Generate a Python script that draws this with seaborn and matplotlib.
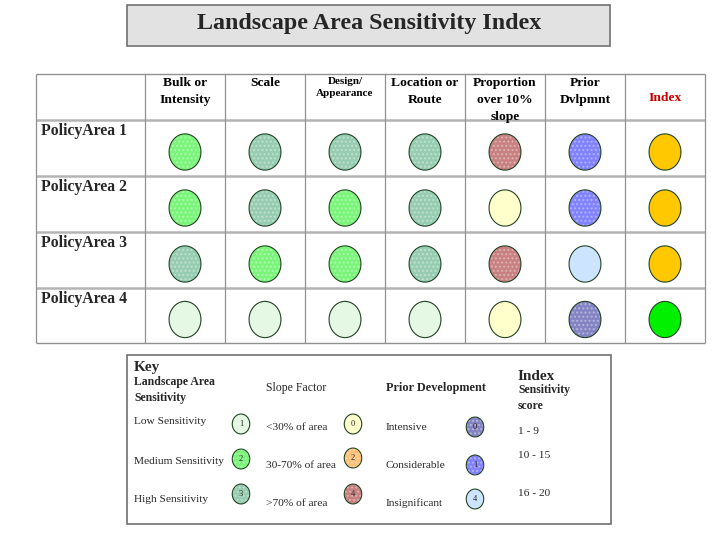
import numpy as np
import pandas as pd
import matplotlib.pyplot as plt
from matplotlib.path import Path
import seaborn as sns

# ---- data ----
columns = ["Bulk or\nIntensity", "Scale", "Design/\nAppearance", "Location or\nRoute",
           "Proportion\nover 10%\nslope", "Prior\nDvlpmnt", "Index"]
areas = ["PolicyArea 1", "PolicyArea 2", "PolicyArea 3", "PolicyArea 4"]

# rating per area, one list per column
bulk = ["medium", "medium", "high", "low"]
scale = ["high", "high", "medium", "low"]
design = ["high", "medium", "medium", "low"]
location = ["high", "high", "high", "low"]
slope = ["over70", "under30", "over70", "under30"]
prior = ["considerable", "considerable", "insignificant", "intensive"]
index = ["mid", "mid", "mid", "top"]

key_sens = ["Low Sensitivity", "Medium Sensitivity", "High Sensitivity"]
key_sens_codes = ["low", "medium", "high"]
key_sens_nums = ["1", "2", "3"]
key_slope = ["<30% of area", "30-70% of area", ">70% of area"]
key_slope_codes = ["under30", "mid70", "over70"]
key_slope_nums = ["0", "2", "4"]
key_prior = ["Intensive", "Considerable", "Insignificant"]
key_prior_codes = ["intensive", "considerable", "insignificant"]
key_prior_nums = ["0", "1", "4"]
key_index = ["1 - 9", "10 - 15", "16 - 20"]

palette = {
    "low": "#e4f8e4", "medium": "#7af57a", "high": "#98ccb2",
    "under30": "#ffffcc", "mid70": "#ffc078", "over70": "#c88080",
    "intensive": "#8484c4", "considerable": "#8282ff", "insignificant": "#cce4ff",
    "mid": "#ffc800", "top": "#00f000",
}
textured = ["medium", "high", "mid70", "over70", "intensive", "considerable"]

# ---- layout ----
W, H = 718, 535
col_edges = [36, 145, 225, 305, 385, 465, 545, 625, 705]
row_edges = [74, 120, 176, 232, 288, 343]
serif = "Liberation Serif"

# ellipse marker, slightly taller than wide
t = np.linspace(0, 2 * np.pi, 60)
ellipse = Path(np.column_stack([0.44 * np.cos(t), 0.5 * np.sin(t)]), closed=True)

sns.set_style("white")
fig = plt.figure(figsize=(W / 100, H / 100), dpi=100)
ax = fig.add_axes([0, 0, 1, 1])
ax.set_xlim(0, W)
ax.set_ylim(H, 0)
ax.axis("off")


def dots(df, size, z):
    sns.scatterplot(data=df, x="x", y="y", hue="rating", palette=palette, marker=ellipse,
                    s=size, edgecolor="#224422", linewidth=0.8, legend=False, ax=ax, zorder=z)
    tex = df[df["rating"].isin(textured)]
    ax.scatter(tex["x"], tex["y"], marker=ellipse, s=size * 0.9, facecolor="none",
               edgecolor=(1, 1, 1, 0.35), linewidth=0, hatch="....", zorder=z + 0.1)


# title box
ax.add_patch(plt.Rectangle((127, 5), 483, 41, facecolor="#e2e2e2", edgecolor="#707070", lw=1.2))
ax.text(369, 23, "Landscape Area Sensitivity Index", family=serif, weight="bold",
        fontsize=17.3, ha="center", va="center")

# table grid
ax.hlines(row_edges[1:-1], col_edges[0], col_edges[-1], color="#b4b4b4", lw=1.8)
ax.hlines([row_edges[0], row_edges[-1]], col_edges[0], col_edges[-1], color="#909090", lw=1)
ax.vlines(col_edges, row_edges[0], row_edges[-1], color="#909090", lw=0.9)

col_mid = [(col_edges[i + 1] + col_edges[i + 2]) / 2 for i in range(len(columns))]
row_mid = [(row_edges[i + 1] + row_edges[i + 2]) / 2 + 4 for i in range(len(areas))]

for i, name in enumerate(columns):
    small = name.startswith("Design")
    ax.text(col_mid[i], 98 if name == "Index" else 77, name, family=serif, weight="bold",
            fontsize=8 if small else 9.7, ha="center", va="center" if name == "Index" else "top",
            color="#cc0000" if name == "Index" else "black",
            linespacing=1.45 if small else 1.55)

for j, area in enumerate(areas):
    ax.text(41, row_edges[j + 1] + 3, area, family=serif, weight="bold", fontsize=11.3,
            ha="left", va="top")

grid = pd.DataFrame({
    "x": np.repeat(col_mid, len(areas)),
    "y": np.tile(row_mid, len(columns)),
    "rating": bulk + scale + design + location + slope + prior + index,
})
dots(grid, 680, 3)

# key box
ax.add_patch(plt.Rectangle((127, 355), 484, 169, facecolor="white", edgecolor="#707070", lw=1.2))
ax.text(134, 367, "Key", family=serif, weight="bold", fontsize=11, ha="left", va="center")
ax.text(134, 390, "Landscape Area\nSensitivity", family=serif, weight="bold", fontsize=8.5,
        ha="left", va="center", linespacing=1.4)
ax.text(266, 388, "Slope Factor", family=serif, fontsize=8.5, ha="left", va="center")
ax.text(386, 388, "Prior Development", family=serif, weight="bold", fontsize=8.8,
        ha="left", va="center")
ax.text(518, 376, "Index", family=serif, weight="bold", fontsize=11, ha="left", va="center")
ax.text(518, 398, "Sensitivity\nscore", family=serif, weight="bold", fontsize=8.5,
        ha="left", va="center", linespacing=1.35)

label_y = [[422, 462, 499], [427, 465, 503], [427, 465, 503], [431, 456, 494]]
dot_y = [[424, 459, 494], [424, 458, 494], [427, 465, 499]]
label_x = [134, 266, 386, 518]
dot_x = [241, 353, 475]
groups = [(key_sens, key_sens_codes, key_sens_nums),
          (key_slope, key_slope_codes, key_slope_nums),
          (key_prior, key_prior_codes, key_prior_nums)]

rows = []
for g, (labels, codes, nums) in enumerate(groups):
    for k in range(3):
        ax.text(label_x[g], label_y[g][k], labels[k], family=serif, fontsize=8.2,
                ha="left", va="center")
        ax.text(dot_x[g], dot_y[g][k], nums[k], family=serif, fontsize=6,
                ha="center", va="center", zorder=5)
        rows.append({"x": dot_x[g], "y": dot_y[g][k], "rating": codes[k]})
for k in range(3):
    ax.text(label_x[3], label_y[3][k], key_index[k], family=serif, fontsize=8.2,
            ha="left", va="center")

dots(pd.DataFrame(rows), 205, 4)

fig.savefig("out.png", dpi=100)
